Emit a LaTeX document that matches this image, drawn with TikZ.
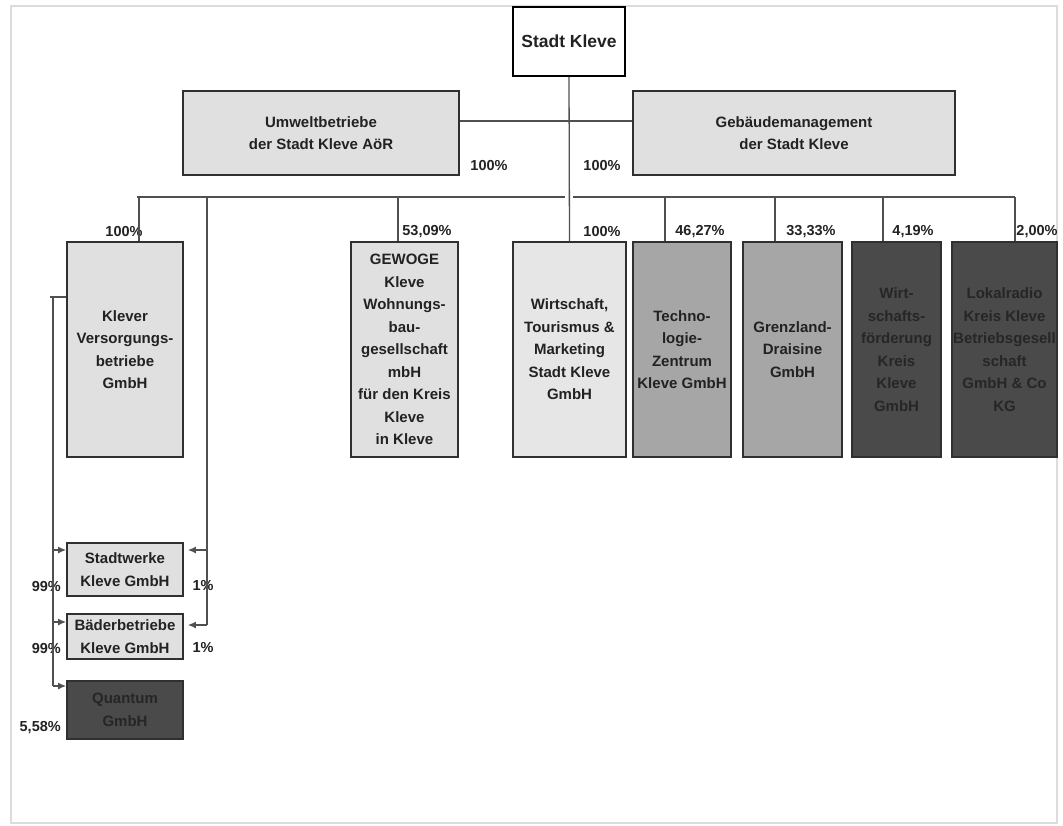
\documentclass[tikz,border=0pt]{standalone}
\usepackage{fontspec}
\setmainfont{Liberation Sans}
\usetikzlibrary{arrows.meta}
\definecolor{lightfill}{HTML}{E0E0E0}
\definecolor{paler}{HTML}{E6E6E6}
\definecolor{midfill}{HTML}{A6A6A6}
\definecolor{darkfill}{HTML}{4A4A4A}
\definecolor{boxline}{HTML}{303030}
\definecolor{conline}{HTML}{505050}
\definecolor{txt}{HTML}{222222}
\definecolor{frame}{HTML}{DCDCDC}
\begin{document}
\begin{tikzpicture}[x=1pt,y=-1pt,
  box/.style={draw=boxline, line width=1.8pt, inner sep=1pt, align=center,
    font=\bfseries\fontsize{15}{22.5}\selectfont, text=txt},
  lbox/.style={box, fill=lightfill},
  pbox/.style={box, fill=paler},
  mbox/.style={box, fill=midfill},
  dbox/.style={box, fill=darkfill, text=black!85},
  tallbox/.style={minimum height=215pt},
  pct/.style={font=\bfseries\fontsize{14.5}{17}\selectfont, text=txt, inner sep=0pt},
  conn/.style={draw=conline, line width=1.3pt},
  arr/.style={conn, -{Latex[length=8pt,width=7pt]}}
]
\useasboundingbox (0,0) rectangle (1063,825);
\draw[frame, line width=1.5pt] (11,6) rectangle (1057,823);

% top
\node[box, fill=white, draw=black, minimum width=112pt, minimum height=69pt,
      font=\bfseries\fontsize{17.5}{21}\selectfont] (stadt) at (569,41.5) {Stadt Kleve};
\node[lbox, minimum width=276pt, minimum height=84pt] (umwelt) at (321,133)
  {Umweltbetriebe\\der Stadt Kleve AöR};
\node[lbox, minimum width=322pt, minimum height=84pt] (gebaeude) at (794,133)
  {Gebäudemanagement\\der Stadt Kleve};

% second row
\node[lbox, tallbox, minimum width=116pt] (klever) at (125,349.5)
  {Klever\\Versorgungs-\\betriebe\\GmbH};
\node[lbox, tallbox, minimum width=107pt] (gewoge) at (404.5,349.5)
  {GEWOGE\\Kleve\\Wohnungs-\\bau-\\gesellschaft\\mbH\\für den Kreis\\Kleve\\in Kleve};
\node[pbox, tallbox, minimum width=113pt] (wirt) at (569.5,349.5)
  {Wirtschaft,\\Tourismus \&\\Marketing\\Stadt Kleve\\GmbH};
\node[mbox, tallbox, minimum width=98pt] (techno) at (682,349.5)
  {Techno-\\logie-\\Zentrum\\Kleve GmbH};
\node[mbox, tallbox, minimum width=99pt] (grenz) at (792.5,349.5)
  {Grenzland-\\Draisine\\GmbH};
\node[dbox, tallbox, minimum width=89pt] (wfk) at (896.5,349.5)
  {Wirt-\\schafts-\\förderung\\Kreis\\Kleve\\GmbH};
\node[dbox, tallbox, minimum width=105pt] (lokal) at (1004.5,349.5)
  {Lokalradio\\Kreis Kleve\\Betriebsgesell\\schaft\\GmbH \& Co\\KG};

% bottom
\node[lbox, minimum width=116pt, minimum height=53pt] (stadtw) at (125,569.5)
  {Stadtwerke\\Kleve GmbH};
\node[lbox, minimum width=116pt, minimum height=45pt] (baeder) at (125,636.5)
  {Bäderbetriebe\\Kleve GmbH};
\node[dbox, minimum width=116pt, minimum height=58pt] (quantum) at (125,710)
  {Quantum\\GmbH};

% percentages
\node[pct] (pu) at (489,166) {100\%};
\node[pct] (pg) at (602,166) {100\%};
\node[pct] (pk) at (124,232) {100\%};
\node[pct] (pgw) at (427,232) {53,09\%};
\node[pct] (pw) at (602,232) {100\%};
\node[pct] (pt) at (700,232) {46,27\%};
\node[pct] (pgr) at (811,232) {33,33\%};
\node[pct] (pf) at (913,232) {4,19\%};
\node[pct] (pl) at (1037,232) {2,00\%};
\node[pct, anchor=east] (p99a) at (61,586) {99\%};
\node[pct, anchor=east] (p99b) at (61,648) {99\%};
\node[pct, anchor=east] (p558) at (61,728) {5,58\%};
\node[pct] (p1a) at (203,586) {1\%};
\node[pct] (p1b) at (203,648) {1\%};

% connectors top
\draw[conn] ([yshift=12pt]umwelt.east) -- ([yshift=12pt]gebaeude.west);
\draw[conn] (stadt.south) -- (wirt.north);

% bus
\coordinate (busL) at (137,197);
\coordinate (gapA) at (565,197);
\coordinate (gapB) at (573,197);
\coordinate (busR) at (1015,197);
\draw[conn] (busL) -- (gapA);
\draw[conn] (gapB) -- (busR);
\coordinate (dk) at (139,197);
\coordinate (dg) at (398,197);
\coordinate (dt) at (665,197);
\coordinate (dgr) at (775,197);
\coordinate (df) at (883,197);
\draw[conn] (dk) -- (dk |- klever.north);
\draw[conn] (dg) -- (dg |- gewoge.north);
\draw[conn] (dt) -- (dt |- techno.north);
\draw[conn] (dgr) -- (dgr |- grenz.north);
\draw[conn] (df) -- (df |- wfk.north);
\draw[conn] (busR) -- (busR |- lokal.north);

% left feeder from Klever
\coordinate (kstub) at (50,297);
\coordinate (lv) at (53,297);
\coordinate (lend) at (53,686);
\draw[conn] (klever.west |- kstub) -- (kstub);
\draw[conn] (lv) -- (lend);
\draw[arr] (lv |- 0,550) -- (stadtw.west |- 0,550);
\draw[arr] (lv |- 0,622) -- (baeder.west |- 0,622);
\draw[arr] (lend) -- (quantum.west |- lend);

% right feeder (1%)
\coordinate (rv) at (207,197);
\coordinate (rend) at (207,625);
\draw[conn] (rv) -- (rend);
\draw[arr] (rv |- 0,550) -- ([xshift=4pt]stadtw.east |- 0,550);
\draw[arr] (rend) -- ([xshift=4pt]baeder.east |- rend);
\end{tikzpicture}
\end{document}
